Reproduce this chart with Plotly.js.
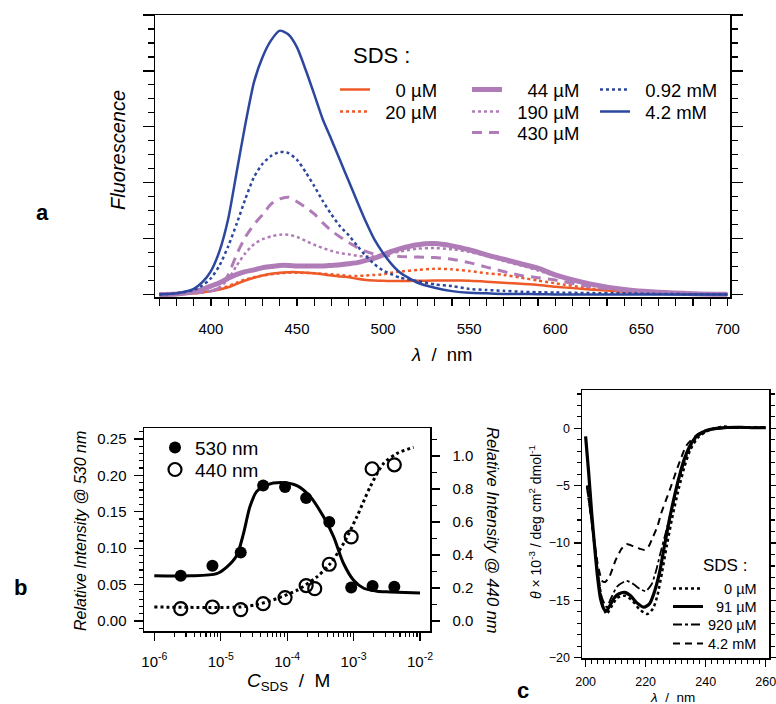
<!DOCTYPE html>
<html>
<head>
<meta charset="utf-8">
<script src="https://cdn.plot.ly/plotly-3.0.1.min.js"></script>
<style>html,body{margin:0;padding:0;background:#fff;}#plot{width:776px;height:704px;}</style>
</head>
<body>
<div id="plot"></div>
<script>
// ---------- Panel a: fluorescence spectra ----------
const wavelength = [370,380,390,395,400,405,410,415,420,425,430,435,440,445,450,455,460,465,470,475,480,485,490,495,500,505,510,520,530,540,550,560,570,580,590,600,620,640,660,680,700];
const fl_0uM   = [0,0.005,0.02,0.035,0.06,0.09,0.13,0.19,0.25,0.30,0.34,0.37,0.39,0.40,0.40,0.39,0.38,0.36,0.34,0.32,0.31,0.28,0.26,0.25,0.245,0.24,0.24,0.245,0.25,0.25,0.245,0.23,0.21,0.19,0.17,0.14,0.09,0.05,0.02,0.01,0.003];
const fl_20uM  = [0,0.005,0.02,0.035,0.06,0.10,0.15,0.21,0.27,0.31,0.34,0.36,0.38,0.39,0.39,0.385,0.38,0.37,0.36,0.35,0.33,0.33,0.34,0.35,0.36,0.39,0.41,0.44,0.46,0.45,0.42,0.38,0.35,0.30,0.25,0.20,0.11,0.05,0.02,0.01,0.003];
const fl_44uM  = [0,0.01,0.05,0.09,0.15,0.21,0.29,0.36,0.41,0.44,0.48,0.50,0.52,0.52,0.51,0.51,0.51,0.51,0.52,0.53,0.55,0.57,0.61,0.65,0.71,0.77,0.82,0.89,0.91,0.87,0.80,0.71,0.63,0.55,0.47,0.35,0.19,0.09,0.04,0.015,0.005];
const fl_190uM = [0,0.01,0.03,0.04,0.06,0.13,0.27,0.52,0.74,0.90,0.99,1.04,1.07,1.07,1.03,0.96,0.89,0.83,0.78,0.74,0.72,0.69,0.68,0.68,0.71,0.74,0.77,0.82,0.83,0.81,0.76,0.69,0.60,0.52,0.43,0.33,0.18,0.09,0.035,0.012,0.003];
const fl_430uM = [0,0.01,0.03,0.04,0.06,0.12,0.35,0.72,1.03,1.25,1.43,1.62,1.71,1.74,1.66,1.56,1.44,1.28,1.14,1.03,0.93,0.84,0.77,0.72,0.70,0.69,0.68,0.67,0.66,0.63,0.57,0.49,0.41,0.34,0.30,0.26,0.14,0.07,0.035,0.015,0.005];
const fl_092mM = [0,0.02,0.08,0.16,0.29,0.52,0.86,1.27,1.71,2.10,2.34,2.48,2.55,2.53,2.41,2.19,1.94,1.67,1.43,1.22,1.06,0.87,0.69,0.54,0.43,0.36,0.30,0.24,0.18,0.15,0.10,0.08,0.065,0.05,0.04,0.035,0.025,0.02,0.01,0.005,0];
const fl_42mM  = [0,0.02,0.10,0.22,0.42,0.78,1.35,2.20,3.05,3.80,4.25,4.55,4.72,4.65,4.42,4.02,3.58,3.13,2.77,2.40,2.03,1.66,1.30,0.98,0.74,0.54,0.39,0.21,0.12,0.06,0.03,0.02,0.01,0.01,0.005,0,0,0,0,0,0];
const spectraLabels = ["0 \u00b5M","20 \u00b5M","44 \u00b5M","190 \u00b5M","430 \u00b5M","0.92 mM","4.2 mM"];

// ---------- Panel b: relative intensity vs SDS ----------
const conc530 = [2.5e-6,7.5e-6,2.0e-5,4.35e-5,9.3e-5,1.93e-4,4.3e-4,9.2e-4,1.93e-3,4.1e-3];
const rel530  = [0.062,0.076,0.094,0.186,0.184,0.169,0.136,0.046,0.048,0.047];
const conc440 = [2.5e-6,7.5e-6,2.0e-5,4.35e-5,9.3e-5,1.93e-4,2.6e-4,4.3e-4,9.2e-4,1.9e-3,4.1e-3];
const rel440  = [0.075,0.085,0.069,0.105,0.142,0.215,0.196,0.344,0.51,0.923,0.947];
const fit530x = [1e-6,3.45e-6,8.7e-6,1.23e-5,1.74e-5,2.2e-5,2.77e-5,3.49e-5,4.93e-5,8.8e-5,1.40e-4,2.22e-4,3.53e-4,4.99e-4,7.06e-4,1e-3,1.42e-3,2.25e-3,3.57e-3,1e-2];
const fit530y = [0.062,0.062,0.065,0.074,0.090,0.120,0.158,0.178,0.187,0.190,0.186,0.171,0.143,0.116,0.079,0.056,0.045,0.041,0.040,0.0386];
const fit440x = [1e-6,1.95e-5,3.49e-5,6.98e-5,1.40e-4,2.8e-4,4.45e-4,7.06e-4,1.12e-3,1.78e-3,2.83e-3,4.5e-3,8.0e-3];
const fit440y = [0.085,0.085,0.099,0.136,0.186,0.267,0.348,0.47,0.632,0.814,0.955,1.016,1.053];
const concTicks = [1e-6,1e-5,1e-4,1e-3,1e-2];
const concTickText = ["10<sup>-6</sup>","10<sup>-5</sup>","10<sup>-4</sup>","10<sup>-3</sup>","10<sup>-2</sup>"];
const pointLabels = ["530 nm","440 nm"];

// ---------- Panel c: CD spectra ----------
const cd0_wl   = [200.5,202,204,205.5,207,208.5,210.5,213,215.5,218,220.5,222.5,224,225.5,227,229,231,233,235,237.5,240,243,246,250,255,260];
const cd0      = [-5.0,-8.0,-12.5,-15.3,-16.2,-15.6,-14.8,-14.6,-15.0,-15.8,-16.2,-15.7,-14.5,-12.5,-10.3,-7.6,-5.3,-3.3,-1.8,-0.8,-0.3,0.0,0.15,0.05,0.1,0.05];
const cd91_wl  = [200,201,202,203,204,205,206.2,207,208,209.5,211,213,215,217,219.5,221.3,223,224.7,226.3,228,229.7,231.3,233,235.2,237.4,240.8,246.3,251.9,256,260];
const cd91     = [-0.7,-3.8,-7.3,-10.3,-13.0,-14.9,-15.8,-15.9,-15.5,-14.8,-14.45,-14.3,-14.6,-15.2,-15.6,-15.3,-14.2,-12.5,-10.2,-7.85,-5.8,-4.1,-2.6,-1.3,-0.58,-0.15,0.06,0.09,0.05,0.06];
const cd920_wl = [200.5,202,204,205.5,207,208.5,210.5,213.6,216,218,220,222,223.5,225,227,229,231,233,235,237.5,240,245,250,260];
const cd920    = [-5.2,-8.2,-12.3,-14.8,-15.6,-14.8,-13.8,-13.3,-13.6,-14.0,-14.2,-13.6,-12.4,-10.8,-8.8,-6.7,-4.6,-2.9,-1.6,-0.7,-0.25,0,0.05,0.05];
const cd42_wl  = [200.5,202,204,205.5,206.5,208,210,212,213.6,216,218,219.7,221,222.4,224,225.2,228,230.8,233.6,236.9,240.2,245,250,260];
const cd42     = [-5.0,-8.0,-11.8,-13.3,-13.4,-12.9,-11.5,-10.5,-10.1,-10.3,-10.5,-10.6,-10.3,-9.5,-8.5,-7.4,-5.4,-3.3,-1.5,-0.6,-0.15,0.0,0.05,0.05];
const cdLabels = ["0 \u00b5M","91 \u00b5M","920 \u00b5M","4.2 mM"];

// ---------- styling / layout ----------
const W = 776, H = 704;
const px = v => v / W, py = v => 1 - v / H;
const FONT = 'Liberation Sans, Arial, sans-serif';
const ORANGE = '#EE5A28', PURPLE = '#B07CB8', BLUE = '#2C479E';
const NB = n => '\u00a0'.repeat(n);

// one legend per entry so that rows can be placed like the original
const legends = {};
let legCount = 0;
function addLegend(x, rowCenter, size) {
  legCount++;
  const id = legCount === 1 ? 'legend' : 'legend' + legCount;
  const h = size * 1.3 + 3;
  legends[id] = {x: px(x), y: py(rowCenter - 5 - h / 2 + 1.5), xanchor: 'left', yanchor: 'top',
    bgcolor: 'rgba(0,0,0,0)', borderwidth: 0, itemwidth: 30,
    font: {family: FONT, size: size, color: '#000'}};
  return id;
}

function spec(y, name, color, width, dash, lx, ly) {
  return {x: wavelength, y: y, name: name, type: 'scatter', mode: 'lines',
    line: {color: color, width: width, dash: dash, shape: 'spline', smoothing: 0.6},
    xaxis: 'x', yaxis: 'y', legend: addLegend(lx, ly, 18.5), hoverinfo: 'skip'};
}
function cd(x, y, name, width, dash, ly) {
  return {x: x, y: y, name: name, type: 'scatter', mode: 'lines',
    line: {color: '#000', width: width, dash: dash, shape: 'spline', smoothing: 0.6},
    xaxis: 'x3', yaxis: 'y4', legend: addLegend(668, ly, 14.5), hoverinfo: 'skip'};
}

const traces = [
  spec(fl_0uM,   NB(4) + spectraLabels[0], ORANGE, 2.5, 'solid', 335, 88),
  spec(fl_20uM,  NB(2) + spectraLabels[1], ORANGE, 2.5, 'dot',   335, 110),
  spec(fl_44uM,  NB(4) + spectraLabels[2], PURPLE, 5,   'solid', 467, 88),
  spec(fl_190uM, NB(2) + spectraLabels[3], PURPLE, 2.5, 'dot',   467, 110),
  spec(fl_430uM, NB(2) + spectraLabels[4], PURPLE, 3,   '10px,7px', 467, 131),
  spec(fl_092mM, NB(2) + spectraLabels[5], BLUE,   2.5, 'dot',   595, 88),
  spec(fl_42mM,  NB(2) + spectraLabels[6], BLUE,   2.5, 'solid', 595, 110),

  {x: fit530x, y: fit530y, type: 'scatter', mode: 'lines', showlegend: false,
   line: {color: '#000', width: 3, shape: 'spline', smoothing: 0.8}, xaxis: 'x2', yaxis: 'y2', hoverinfo: 'skip'},
  {x: conc530, y: rel530, name: pointLabels[0], type: 'scatter', mode: 'markers',
   marker: {symbol: 'circle', size: 12, color: '#000'}, xaxis: 'x2', yaxis: 'y2',
   legend: addLegend(155, 446, 19), hoverinfo: 'skip'},
  {x: fit440x, y: fit440y, type: 'scatter', mode: 'lines', showlegend: false,
   line: {color: '#000', width: 3, dash: 'dot', shape: 'spline', smoothing: 0.8}, xaxis: 'x2', yaxis: 'y3', hoverinfo: 'skip'},
  {x: conc440, y: rel440, name: pointLabels[1], type: 'scatter', mode: 'markers',
   marker: {symbol: 'circle-open', size: 13, color: '#000', line: {width: 2.2}}, xaxis: 'x2', yaxis: 'y3',
   legend: addLegend(155, 468, 19), hoverinfo: 'skip'},

  cd(cd0_wl,   cd0,   NB(4) + cdLabels[0], 2.5, 'dot', 587),
  cd(cd91_wl,  cd91,  NB(2) + cdLabels[1], 3.2, 'solid', 605),
  cd(cd920_wl, cd920, cdLabels[2], 1.8, 'dashdot', 623),
  cd(cd42_wl,  cd42,  cdLabels[3], 2,   '7px,5px', 642)
];

const axBase = {showgrid: false, zeroline: false, showline: true, linecolor: '#000', linewidth: 1.5,
  ticks: 'outside', tickcolor: '#000', tickwidth: 1.2, mirror: true,
  tickfont: {family: FONT, size: 15, color: '#000'}};

// minor tick values for the log axis (2..9 of each decade)
const minorLog = [];
for (let e = -6; e < -2; e++) for (let m = 2; m <= 9; m++) minorLog.push(m * Math.pow(10, e));

const ann = (x, y, text, size, opts) => Object.assign({xref: 'paper', yref: 'paper', x: px(x), y: py(y),
  text: text, showarrow: false, xanchor: 'center', yanchor: 'middle',
  font: {family: FONT, size: size, color: '#000'}}, opts || {});

const layout = Object.assign({
  width: W, height: H, margin: {l: 0, r: 0, t: 0, b: 0},
  paper_bgcolor: '#fff', plot_bgcolor: 'rgba(0,0,0,0)',
  font: {family: FONT, color: '#000'},
  showlegend: true,
  xaxis: Object.assign({}, axBase, {domain: [px(155), px(730)], range: [367.5, 701.5], anchor: 'y',
    dtick: 50, tick0: 0, ticklen: 7, ticklabelstandoff: 10,
    minor: {dtick: 10, ticks: 'outside', ticklen: 7, tickcolor: '#000', tickwidth: 1.2}}),
  yaxis: Object.assign({}, axBase, {domain: [py(297), py(15)], range: [-0.045, 5.0], anchor: 'x',
    dtick: 1, tick0: 0, ticklen: 11, showticklabels: false, mirror: 'allticks',
    minor: {dtick: 0.25, ticks: 'outside', ticklen: 6, tickcolor: '#000', tickwidth: 1.2}}),

  xaxis2: Object.assign({}, axBase, {domain: [px(144), px(430)], type: 'log', range: [-6.155, -1.85], anchor: 'y2',
    tickmode: 'array', tickvals: concTicks, ticktext: concTickText, ticklen: 8, ticklabelstandoff: 8,
    minor: {tickmode: 'array', tickvals: minorLog, ticks: 'outside', ticklen: 4, tickcolor: '#000', tickwidth: 1.2}}),
  yaxis2: Object.assign({}, axBase, {domain: [py(631), py(428)], range: [-0.0137, 0.265], anchor: 'x2',
    dtick: 0.05, tick0: 0, tickformat: '.2f', ticklen: 9, ticklabelstandoff: 4,
    minor: {dtick: 0.01, ticks: 'outside', ticklen: 4, tickcolor: '#000', tickwidth: 1.2}}),
  yaxis3: Object.assign({}, axBase, {overlaying: 'y2', side: 'right', range: [-0.0606, 1.170], anchor: 'x2',
    dtick: 0.2, tick0: 0, tickformat: '.1f', ticklen: 8, ticklabelstandoff: 10, mirror: false,
    minor: {dtick: 0.1, ticks: 'outside', ticklen: 5, tickcolor: '#000', tickwidth: 1.2}}),

  xaxis3: Object.assign({}, axBase, {domain: [px(582), px(769)], range: [198.8, 261.1], anchor: 'y4',
    dtick: 20, tick0: 0, ticklen: 7, ticklabelstandoff: 4, ticklabeloverflow: 'allow',
    tickfont: {family: FONT, size: 12.5, color: '#000'},
    minor: {dtick: 2, ticks: 'outside', ticklen: 4, tickcolor: '#000', tickwidth: 1.2}}),
  yaxis4: Object.assign({}, axBase, {domain: [py(658), py(390)], range: [-20.03, 3.34], anchor: 'x3',
    dtick: 5, tick0: 0, ticklen: 7, ticklabelstandoff: 1, mirror: 'allticks',
    tickfont: {family: FONT, size: 12.5, color: '#000'},
    minor: {dtick: 1, ticks: 'outside', ticklen: 4, tickcolor: '#000', tickwidth: 1.2}}),

  annotations: [
    ann(42, 212, '<b>a</b>', 22),
    ann(20, 587, '<b>b</b>', 22),
    ann(523, 690, '<b>c</b>', 22),
    ann(118, 150, '<i>Fluorescence</i>', 20, {textangle: -90}),
    ann(442, 354, '<i>\u03bb</i>\u00a0\u00a0/\u00a0\u00a0nm', 18.5),
    ann(381, 55, 'SDS :', 22),
    ann(80, 531, '<i>Relative Intensity @ 530 nm</i>', 16, {textangle: -90}),
    ann(493, 530, '<i>Relative Intensity @ 440 nm</i>', 16.5, {textangle: 90}),
    ann(288, 682, '<i>C</i><sub>SDS</sub>\u00a0\u00a0/\u00a0\u00a0M', 19),
    ann(535, 522, '<i>\u03b8</i> \u00d7 10<sup>-3</sup>\u00a0/\u00a0deg cm<sup>2</sup> dmol<sup>-1</sup>', 14, {textangle: -90}),
    ann(672, 697, '<i>\u03bb</i>\u00a0\u00a0/\u00a0\u00a0nm', 13.5),
    ann(725, 565, 'SDS :', 17)
  ]
}, legends);

Plotly.newPlot('plot', traces, layout, {displayModeBar: false, staticPlot: true});
</script>
</body>
</html>
